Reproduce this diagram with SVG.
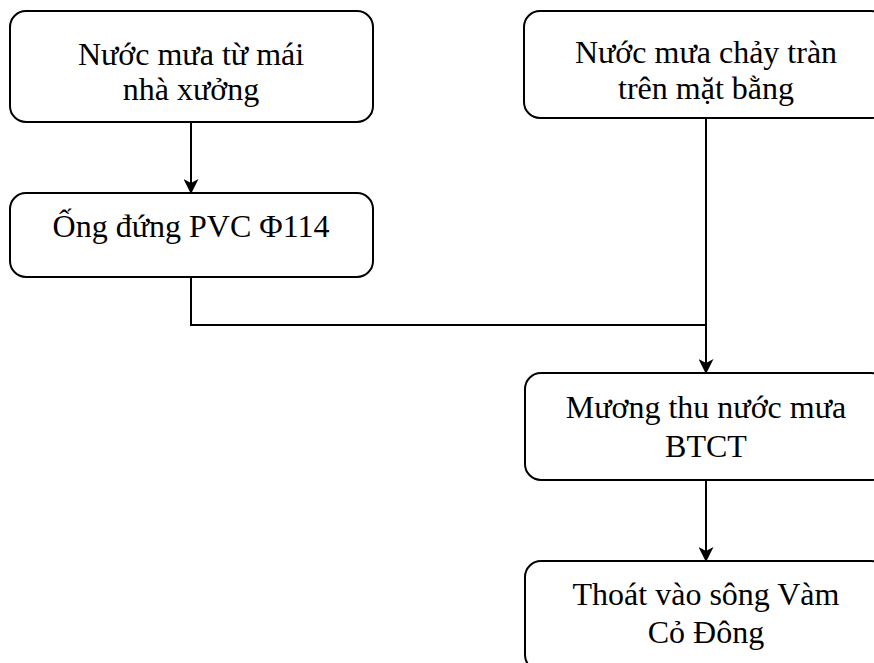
<svg xmlns="http://www.w3.org/2000/svg" width="874" height="663" viewBox="0 0 874 663">
<style>
.box{fill:#fff;stroke:#000;stroke-width:2}
.t{font-family:"Liberation Serif","Times New Roman",serif;font-size:32px;fill:#000;text-anchor:middle}
.c{fill:none;stroke:#000;stroke-width:2}
</style>
<defs>
<marker id="arr" markerUnits="userSpaceOnUse" markerWidth="15" markerHeight="15" viewBox="0 0 15 15" refX="14" refY="7.5" orient="auto">
<path d="M0,0 L15,7.5 L0,15 L4,7.5 z" fill="#000"/>
</marker>
</defs>
<rect width="874" height="663" fill="#fff"/>
<g id="connectors">
<path class="c" d="M191,122 V193" marker-end="url(#arr)"/>
<path class="c" d="M706,118 V373" marker-end="url(#arr)"/>
<path class="c" d="M191,277 V325 H706"/>
<path class="c" d="M706,480 V561" marker-end="url(#arr)"/>
</g>
<g id="n1">
<rect class="box" x="10" y="11" width="363" height="111" rx="16"/>
<text class="t" x="191" y="65">Nước mưa từ mái</text>
<text class="t" x="191" y="100">nhà xưởng</text>
</g>
<g id="n2">
<rect class="box" x="524" y="11" width="363" height="107" rx="16"/>
<text class="t" x="706" y="63">Nước mưa chảy tràn</text>
<text class="t" x="706" y="99">trên mặt bằng</text>
</g>
<g id="n3">
<rect class="box" x="10" y="193" width="363" height="84" rx="16"/>
<text class="t" x="191" y="237">Ống đứng PVC Φ114</text>
</g>
<g id="n4">
<rect class="box" x="525" y="373" width="362" height="107" rx="16"/>
<text class="t" x="706" y="418">Mương thu nước mưa</text>
<text class="t" x="706" y="457">BTCT</text>
</g>
<g id="n5">
<rect class="box" x="525" y="561" width="362" height="110" rx="16"/>
<text class="t" x="706" y="605">Thoát vào sông Vàm</text>
<text class="t" x="706" y="643">Cỏ Đông</text>
</g>
</svg>
